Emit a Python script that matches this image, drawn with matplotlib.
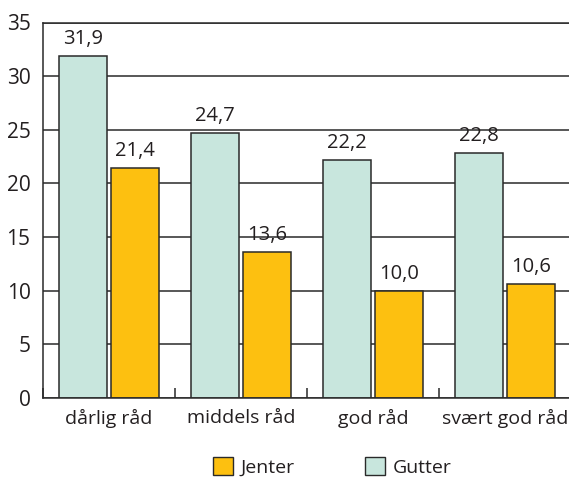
import numpy as np
import matplotlib.pyplot as plt
from matplotlib.patches import Patch

categories = ["dårlig råd", "middels råd", "god råd", "svært god råd"]
gutter = [31.9, 24.7, 22.2, 22.8]
jenter = [21.4, 13.6, 10.0, 10.6]
y_ticks = [0, 5, 10, 15, 20, 25, 30, 35]

GREEN = "#c8e6dd"
ORANGE = "#fdc010"
EDGE = "#2a2a2a"
TEXT = "#231f20"

plt.rcParams["font.family"] = ["Open Sans", "DejaVu Sans"]

fig = plt.figure(figsize=(5.69, 4.80), dpi=100)
ax = fig.add_axes([43 / 569, 1 - 398 / 480, 528 / 569, 375.5 / 480])

x = np.arange(len(categories))
offset = 0.197
width = 0.364

ax.set_axisbelow(True)
ax.yaxis.grid(True, color=EDGE, linewidth=1.1)

bars_g = ax.bar(x - offset, gutter, width, color=GREEN, edgecolor=EDGE, linewidth=1.1, label="Gutter")
bars_j = ax.bar(x + offset, jenter, width, color=ORANGE, edgecolor=EDGE, linewidth=1.1, label="Jenter")

for bars, vals in ((bars_g, gutter), (bars_j, jenter)):
    for b, v in zip(bars, vals):
        ax.text(b.get_x() + b.get_width() / 2, v + 0.65, f"{v:.1f}".replace(".", ","),
                ha="center", va="bottom", fontsize=14.5, color=TEXT)

ax.set_xlim(-0.5, 3.5)
ax.set_ylim(0, 35)
ax.set_yticks(y_ticks)
ax.set_yticklabels([str(t) for t in y_ticks])
ax.set_xticks(x)
ax.set_xticklabels(categories)
ax.set_xticks([-0.5, 0.5, 1.5, 2.5], minor=True)
ax.tick_params(axis="x", which="major", length=0, pad=8, labelsize=14, labelcolor=TEXT)
ax.tick_params(axis="x", which="minor", direction="in", length=7, width=1.1, color=EDGE)
ax.tick_params(axis="y", length=0, pad=9, labelsize=15, labelcolor=TEXT)

for side in ("left", "bottom", "top"):
    ax.spines[side].set_color(EDGE)
    ax.spines[side].set_linewidth(1.1)
ax.spines["right"].set_visible(False)

handles = [Patch(facecolor=ORANGE, edgecolor=EDGE, label="Jenter"),
           Patch(facecolor=GREEN, edgecolor=EDGE, label="Gutter")]
fig.legend(handles=handles, loc="lower left", bbox_to_anchor=(195 / 569, -0.03), ncol=2,
           frameon=False, fontsize=14, handlelength=1.05, handleheight=1.05,
           handletextpad=0.4, columnspacing=3.6, labelcolor=TEXT)

fig.savefig("out.png", dpi=100)
